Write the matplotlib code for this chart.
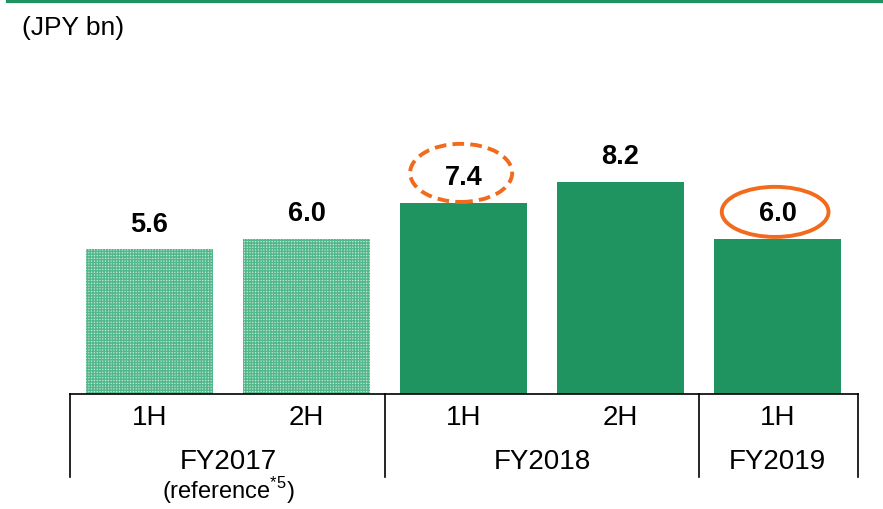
import matplotlib
matplotlib.use("Agg")
import matplotlib.pyplot as plt
from matplotlib.patches import Ellipse
from matplotlib.lines import Line2D

plt.rcParams['font.family'] = ['Liberation Sans', 'DejaVu Sans']
plt.rcParams['hatch.linewidth'] = 1.0

halves = ["1H", "2H", "1H", "2H", "1H"]
years = ["FY2017", "FY2018", "FY2019"]
year_spans = [(0, 1), (2, 3), (4, 4)]
values = [5.6, 6.0, 7.4, 8.2, 6.0]
reference = [True, True, False, False, False]
circled = [2, 4]
dashed = [True, False]

GREEN = '#1F9461'
ORANGE = '#F26A1B'

W, H = 883, 510
fig = plt.figure(figsize=(W / 100, H / 100), dpi=100)

base_y = 395
left_px, right_px = 70, 858
ax = fig.add_axes([left_px / W, (H - base_y) / H, (right_px - left_px) / W, base_y / H])
ppu = 25.83  # pixels per unit
spacing = 157.0
c0 = 149.5
ax.set_xlim((left_px - c0) / spacing, (right_px - c0) / spacing)
ax.set_ylim(0, base_y / ppu)
ax.axis('off')

xs = list(range(len(values)))
for x, v, ref in zip(xs, values, reference):
    if ref:
        ax.bar(x, v, width=0.81, color='#bfe6d3', edgecolor='#52b88b', hatch='++++++', linewidth=0)
    else:
        ax.bar(x, v, width=0.81, color=GREEN, linewidth=0)
    ax.text(x, v + 1.0, f"{v:.1f}", ha='center', va='center', fontsize=19.5, fontweight='bold')

ell = {True: ((1.16, 0.65, 2.25)), False: ((1.05, 0.68, 1.94))}
for i, d in zip(circled, dashed):
    off, w, h = ell[d]
    e = Ellipse((xs[i] - 0.015, values[i] + off), w, h, fill=False,
                edgecolor=ORANGE, linewidth=2.8, linestyle=(0, (3, 1.6)) if d else '-',
                clip_on=False)
    ax.add_patch(e)

# baseline and category separators
xl = ax.get_xlim()
ax.plot(xl, [0, 0], color='black', linewidth=1.2, clip_on=False)
low = -(478 - base_y) / ppu
seps = [xl[0], 1.5, 3.5, xl[1]]
for s in seps:
    ax.plot([s, s], [0, low], color='black', linewidth=1.2, clip_on=False)

for x, h in zip(xs, halves):
    ax.text(x, -(418 - base_y) / ppu, h, ha='center', va='center', fontsize=20)
for (a, b), yname in zip(year_spans, years):
    ax.text((a + b) / 2, -(462 - base_y) / ppu, yname, ha='center', va='center', fontsize=20)
ax.text(0.5, -(491 - base_y) / ppu, r"(reference$^{\mathregular{*5}}$)", ha='center', va='center', fontsize=17)

# top green rule and unit label
fig.add_artist(Line2D([8 / W, 1], [1 - 1.5 / H, 1 - 1.5 / H], color=GREEN, linewidth=3))
fig.text(22 / W, 1 - 28 / H, "(JPY bn)", ha='left', va='center', fontsize=19)

fig.savefig("out.png", dpi=100)
